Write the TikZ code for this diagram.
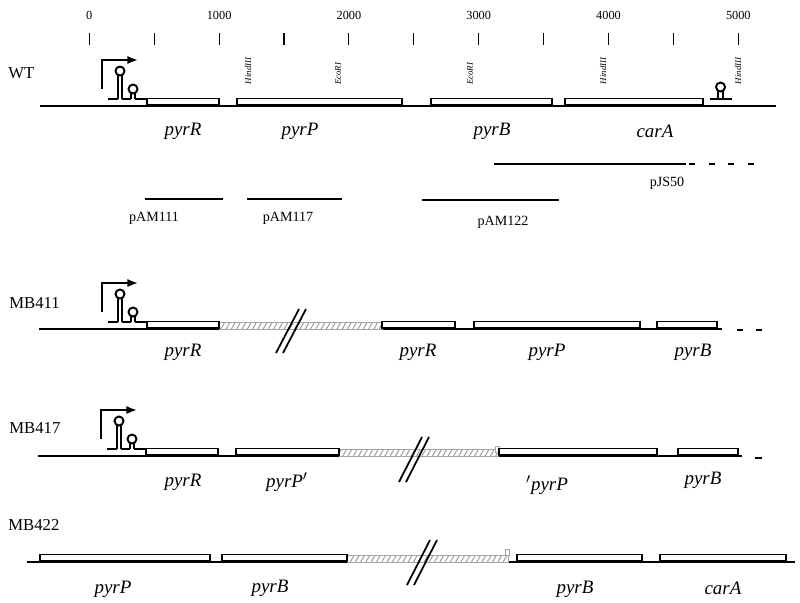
\documentclass[tikz,border=0pt]{standalone}
\usepackage{fontspec}
\setmainfont{Liberation Serif}
\usetikzlibrary{arrows.meta,patterns.meta}

\begin{document}
\begin{tikzpicture}[
    x=0.02cm, y=-0.02cm,
    dna/.style={line width=1.2pt},
    gene/.style={draw, line width=1.1pt, fill=white},
    deleted/.style={draw=gray!70, line width=0.4pt, pattern={Lines[angle=60, distance=2.6pt, line width=0.5pt]}, pattern color=gray!85},
    stub/.style={draw=gray!70, line width=0.4pt, fill=white},
    brk/.style={line width=1pt},
    clone/.style={line width=1.3pt},
    genename/.style={font=\fontsize{10.8}{12}\selectfont\itshape},
    strain/.style={anchor=west, inner sep=0pt, font=\fontsize{9.5}{11}\selectfont},
    plasmid/.style={font=\fontsize{8}{9}\selectfont},
    site/.style={rotate=90, inner sep=0pt, font=\fontsize{5}{6}\selectfont\itshape},
    scalelbl/.style={font=\fontsize{7}{8}\selectfont},
    hpin/.pic={
      \draw[line width=1.1pt] (-2.4,0) -- (-2.4,-#1+3.8) (2.4,0) -- (2.4,-#1+3.8);
      \draw[line width=1.1pt] (0,-#1) circle[radius=0.9mm];
    },
    prom/.pic={
      \draw[line width=1pt, -{Latex[length=6pt,width=4.6pt]}] (0,-17) -- (0,-46) -- (36,-46);
      \draw[line width=1.1pt] (5.7,-7) -- (15.6,-7) (20.4,-7) -- (28.6,-7) (33.4,-7) -- (43.7,-7);
      \pic at (18,-7) {hpin=28};
      \pic at (31,-7) {hpin=10};
    }
    ]
    \useasboundingbox (0,0) rectangle (800,602);

    % scale
    \foreach \k in {0,...,10}
      \draw[line width=0.6pt] ({89.3+64.9*\k},33) -- ({89.3+64.9*\k},45);
    \foreach \k/\v in {0/0,1/1000,2/2000,3/3000,4/4000,5/5000}
      \node[scalelbl] (s\k) at ({89.3+129.8*\k},15) {\v};

    % WT
    \node[strain] (wt) at (8,73) {WT};
    \draw[dna] (40,106) -- (776,106);
    \pic at (102,106) {prom};
    \draw[line width=1.1pt] (709.5,99) -- (731.5,99);
    \pic at (720.5,99) {hpin=12};
    \draw[gene] (147,98.5) rectangle (219,105);
    \draw[gene] (237,98.5) rectangle (402,105);
    \draw[gene] (431,98.5) rectangle (552,105);
    \draw[gene] (565,98.5) rectangle (703,105);
    \node[site] (h1) at (248,71) {HindIII};
    \node[site] (e1) at (338,74) {EcoRI};
    \node[site] (e2) at (470,74) {EcoRI};
    \node[site] (h2) at (603,71) {HindIII};
    \node[site] (h3) at (738,71) {HindIII};
    \node[genename] (wt-pyrR) at (183,131) {pyrR};
    \node[genename] (wt-pyrP) at (300,131) {pyrP};
    \node[genename] (wt-pyrB) at (492,131) {pyrB};
    \node[genename] (wt-carA) at (655,131) {carA};

    % clones
    \draw[clone] (494,164) -- (686,164);
    \draw[clone, dash pattern=on 3.4pt off 7.8pt] (689,164) -- (756,164);
    \node[plasmid] (pjs50) at (667,183) {pJS50};
    \draw[clone] (145,199) -- (223,199);
    \node[plasmid] (pam111) at (154,218) {pAM111};
    \draw[clone] (247,199) -- (342,199);
    \node[plasmid] (pam117) at (288,218) {pAM117};
    \draw[clone] (422,200) -- (559,200);
    \node[plasmid] (pam122) at (503,222) {pAM122};

    % MB411
    \node[strain] (mb411) at (9,303) {MB411};
    \draw[dna] (39,329) -- (219,329) (382,329) -- (722,329);
    \draw[dna, dash pattern=on 3.4pt off 7.4pt] (737,330) -- (763,330);
    \pic at (102,329) {prom};
    \draw[deleted] (219,322) rectangle (382,329);
    \draw[gene] (147,321.5) rectangle (219,328);
    \draw[gene] (382,321.5) rectangle (455,328);
    \draw[gene] (474,321.5) rectangle (640,328);
    \draw[gene] (657,321.5) rectangle (717,328);
    \draw[brk] (276,353) -- (299,309);
    \draw[brk] (283,353) -- (306,309);
    \node[genename] (a-pyrR) at (183,352) {pyrR};
    \node[genename] (a-pyrR2) at (418,352) {pyrR};
    \node[genename] (a-pyrP) at (547,352) {pyrP};
    \node[genename] (a-pyrB) at (693,352) {pyrB};

    % MB417
    \node[strain] (mb417) at (9,428) {MB417};
    \draw[dna] (38,456) -- (339,456) (498,456) -- (742,456);
    \draw[dna] (755,458) -- (762,458);
    \pic at (101,456) {prom};
    \draw[deleted] (339,449) rectangle (498,456);
    \draw[stub] (495,446) rectangle (499,452);
    \draw[gene] (146,448.5) rectangle (218,455);
    \draw[gene] (236,448.5) rectangle (339,455);
    \draw[gene] (499,448.5) rectangle (657,455);
    \draw[gene] (678,448.5) rectangle (738,455);
    \draw[brk] (399,482) -- (422,437);
    \draw[brk] (406,482) -- (429,437);
    \node[genename] (b-pyrR) at (183,482) {pyrR};
    \node[genename] (b-pyrP) at (287,482) {pyrP$'$};
    \node[genename] (b-pyrP2) at (547,485) {$'$pyrP};
    \node[genename] (b-pyrB) at (703,480) {pyrB};

    % MB422
    \node[strain] (mb422) at (8,525) {MB422};
    \draw[dna] (27,562) -- (347,562) (508,562) -- (795,562);
    \draw[deleted] (347,555) rectangle (508,562);
    \draw[stub] (505,549) rectangle (509,555);
    \draw[gene] (40,554.5) rectangle (210,561);
    \draw[gene] (222,554.5) rectangle (347,561);
    \draw[gene] (517,554.5) rectangle (642,561);
    \draw[gene] (660,554.5) rectangle (786,561);
    \draw[brk] (407,585) -- (430,540);
    \draw[brk] (414,585) -- (437,540);
    \node[genename] (c-pyrP) at (113,589) {pyrP};
    \node[genename] (c-pyrB) at (270,588) {pyrB};
    \node[genename] (c-pyrB2) at (575,589) {pyrB};
    \node[genename] (c-carA) at (723,588) {carA};
  \end{tikzpicture}
\end{document}
